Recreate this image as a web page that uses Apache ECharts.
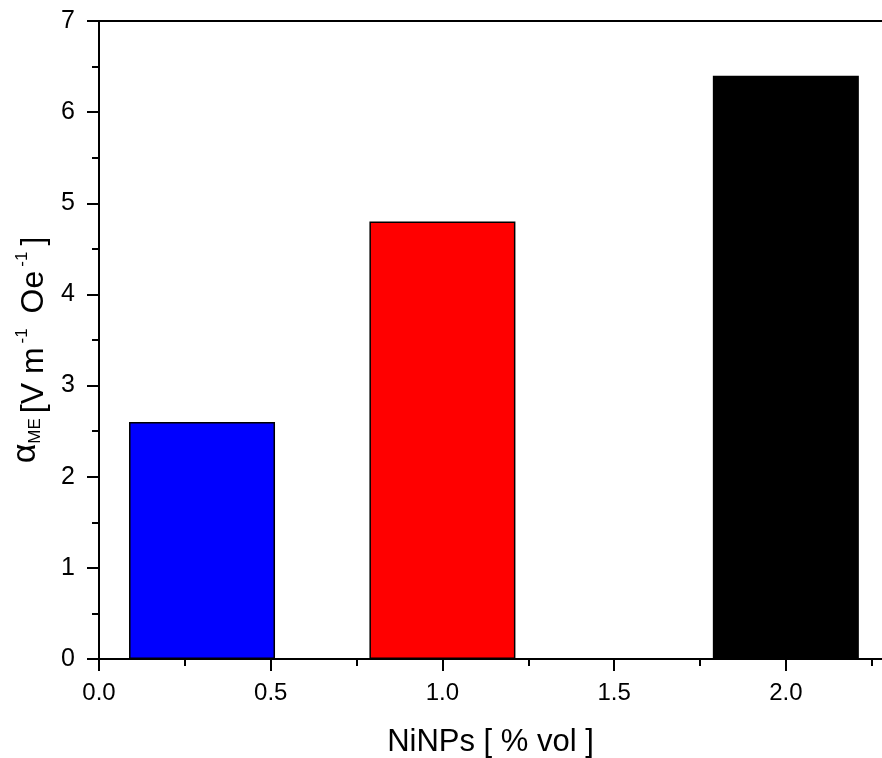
<!DOCTYPE html>
<html>
<head>
<meta charset="utf-8">
<script src="https://cdn.jsdelivr.net/npm/echarts@6/dist/echarts.min.js"></script>
<style>
html,body{margin:0;padding:0;background:#fff;}
#chart{width:882px;height:758px;}
</style>
</head>
<body>
<div id="chart"></div>
<script>
const concentrations = [0.3, 1.0, 2.0];
const alphaME = [2.6, 4.8, 6.4];
const barColors = ['#0000FF', '#FF0000', '#000000'];
const xMajorTicks = [0, 0.5, 1.0, 1.5, 2.0];
const xMinorTicks = [0.25, 0.75, 1.25, 1.75, 2.25];
const xTitle = 'NiNPs [ % vol ]';

const font = '"Liberation Sans", Arial, sans-serif';
const X_MAX = 2.28;
const chart = echarts.init(document.getElementById('chart'));
const data = concentrations.map((c, i) => ({
  value: [c, alphaME[i]],
  itemStyle: { color: barColors[i], borderColor: '#000', borderWidth: 1.5 }
}));
const lineStyle = { color: '#000', width: 2 };

chart.setOption({
  animation: false,
  backgroundColor: '#fff',
  grid: { left: 99, top: 21, right: 0, bottom: 99, containLabel: false, outerBoundsMode: 'none' },
  xAxis: [{
    type: 'value',
    min: 0, max: X_MAX,
    position: 'bottom',
    name: xTitle,
    nameLocation: 'middle',
    nameGap: 68,
    nameTextStyle: { fontFamily: font, fontSize: 31, color: '#000' },
    axisLine: { show: true, onZero: false, lineStyle: lineStyle },
    axisTick: { show: true, length: 12, lineStyle: lineStyle, customValues: xMajorTicks },
    splitLine: { show: false },
    axisLabel: { fontFamily: font, fontSize: 24, color: '#000', margin: 22,
      customValues: xMajorTicks, formatter: v => v.toFixed(1) }
  }, {
    type: 'value',
    min: 0, max: X_MAX,
    position: 'bottom',
    axisLine: { show: false, onZero: false },
    axisTick: { show: true, length: 7, lineStyle: lineStyle, customValues: xMinorTicks },
    axisLabel: { show: false },
    splitLine: { show: false }
  }, {
    type: 'value',
    min: 0, max: X_MAX,
    position: 'top',
    axisLine: { show: true, onZero: false, lineStyle: lineStyle },
    axisTick: { show: false },
    axisLabel: { show: false },
    splitLine: { show: false }
  }],
  yAxis: {
    type: 'value',
    min: 0, max: 7, interval: 1,
    name: '{a|α}{sub|ME}{n|[V m}{sup|-1}{n| Oe}{sup|-1}{n|]}',
    nameLocation: 'middle',
    nameRotate: 90,
    nameGap: 32,
    nameTextStyle: {
      fontFamily: font, color: '#000', padding: [0, 20, 0, 0],
      rich: {
        a: { fontFamily: font, fontSize: 34, color: '#000', lineHeight: 36, verticalAlign: 'bottom', padding: [0, 0, 8, 0] },
        n: { fontFamily: font, fontSize: 32, color: '#000', lineHeight: 36, verticalAlign: 'bottom' },
        sub: { fontFamily: font, fontSize: 17, color: '#000', lineHeight: 17, verticalAlign: 'bottom', padding: [0, 5, 6, 0] },
        sup: { fontFamily: font, fontSize: 17, color: '#000', lineHeight: 14, verticalAlign: 'top', padding: [0, 6, 0, 4] }
      }
    },
    axisLine: { show: true, onZero: false, lineStyle: lineStyle },
    axisTick: { show: true, length: 12, lineStyle: lineStyle },
    minorTick: { show: true, splitNumber: 2, length: 7, lineStyle: lineStyle },
    splitLine: { show: false },
    axisLabel: { fontFamily: font, fontSize: 25, color: '#000', margin: 24 }
  },
  series: [{
    type: 'bar',
    xAxisIndex: 0,
    barWidth: 146,
    data: data
  }]
});
</script>
</body>
</html>
